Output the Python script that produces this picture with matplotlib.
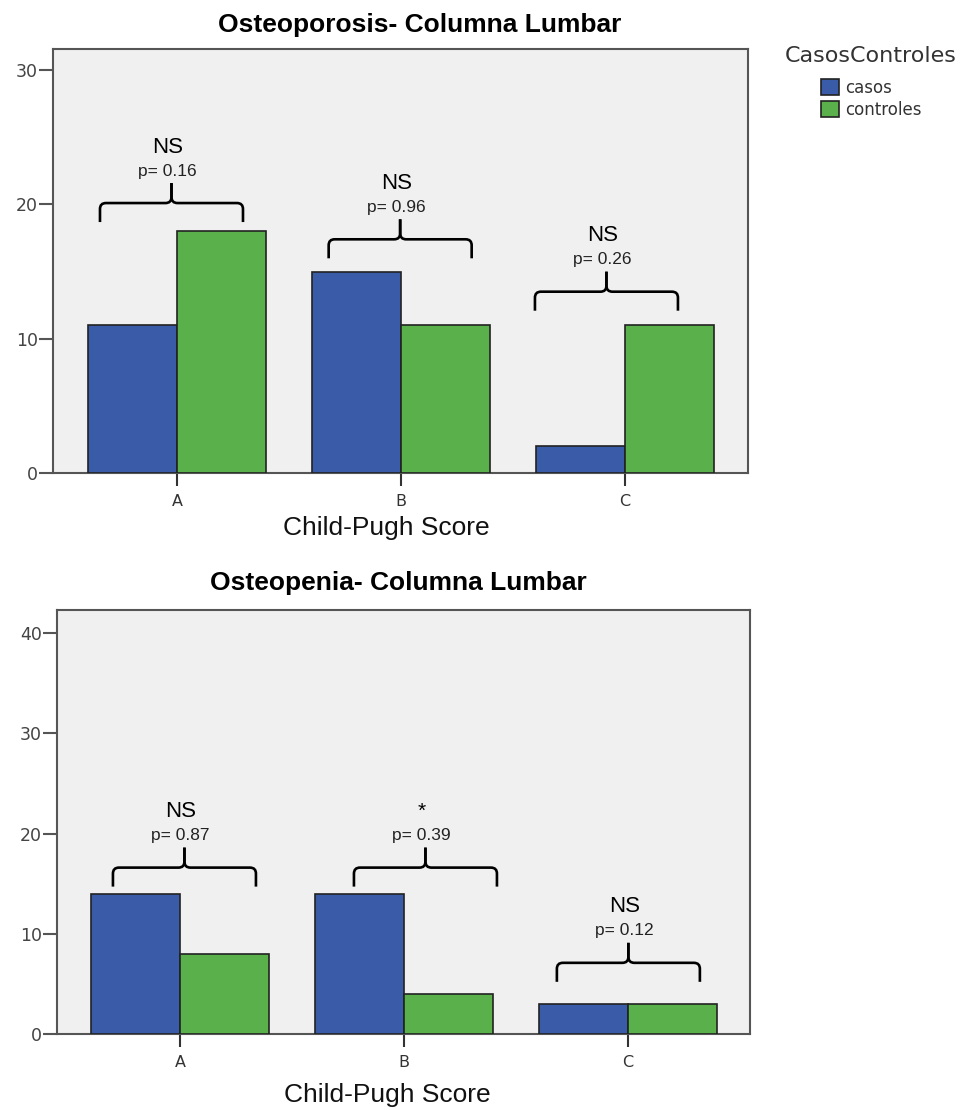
import matplotlib.pyplot as plt
import numpy as np
from matplotlib.path import Path
from matplotlib.patches import PathPatch

# data
groups = ["A", "B", "C"]
series = ["casos", "controles"]
osteoporosis_casos = [11, 15, 2]
osteoporosis_controles = [18, 11, 11]
osteopenia_casos = [14, 14, 3]
osteopenia_controles = [8, 4, 3]

# significance annotations (brace centre, brace level, label, p-value)
porosis_marks = ["NS", "NS", "NS"]
porosis_p = ["p= 0.16", "p= 0.96", "p= 0.26"]
porosis_brace_x = [-0.025, 0.996, 1.917]
porosis_brace_y = [20.1, 17.4, 13.5]
penia_marks = ["NS", "*", "NS"]
penia_p = ["p= 0.87", "p= 0.39", "p= 0.12"]
penia_brace_x = [0.02, 1.096, 2.002]
penia_brace_y = [16.6, 16.6, 7.1]

blue = "#3a5ba8"
green = "#5ab04a"
sans = ["Liberation Sans", "DejaVu Sans"]

W, H = 966, 1110
fig = plt.figure(figsize=(W / 100, H / 100), dpi=100)


def brace(ax, xc, y0, half_px=71.5, drop=19, rise=20, r=6):
    sx = ax.bbox.width / (ax.get_xlim()[1] - ax.get_xlim()[0])
    sy = ax.bbox.height / (ax.get_ylim()[1] - ax.get_ylim()[0])
    for s in (-1, 1):
        pts = [(s * half_px, -drop), (s * half_px, -r), (s * half_px, 0),
               (s * (half_px - r), 0), (s * r, 0), (0, 0), (0, r), (0, rise)]
        codes = [Path.MOVETO, Path.LINETO, Path.CURVE3, Path.CURVE3,
                 Path.LINETO, Path.CURVE3, Path.CURVE3, Path.LINETO]
        verts = [(xc + dx / sx, y0 + dy / sy) for dx, dy in pts]
        ax.add_patch(PathPatch(Path(verts, codes), fill=False, lw=1.9,
                               color="black", capstyle="butt", zorder=5))
    return sx, sy


def panel(rect, casos, controles, ymax, yticks, xlim, title, title_xy,
          marks, pvals, bx, by, xlabel_xy):
    ax = fig.add_axes(rect)
    ax.set_facecolor("#f0f0f0")
    x = np.arange(len(groups))
    w = 0.397
    ax.bar(x - w / 2, casos, w, color=blue, edgecolor="#222222", lw=1.2,
           label=series[0], zorder=3)
    ax.bar(x + w / 2, controles, w, color=green, edgecolor="#222222", lw=1.2,
           label=series[1], zorder=3)
    ax.set_xlim(*xlim)
    ax.set_ylim(0, ymax)
    ax.set_yticks(yticks)
    ax.set_xticks(x)
    ax.set_xticklabels(groups)
    for sp in ax.spines.values():
        sp.set_color("#555555")
        sp.set_linewidth(1.5)
    ax.tick_params(axis="y", length=10, width=1.5, color="#555555", pad=1,
                   labelsize=12.5, labelcolor="#444444")
    ax.tick_params(axis="x", length=9, width=1.5, color="#333333", pad=6,
                   labelsize=11.5, labelcolor="#333333")
    ax.set_title(title, x=title_xy[0], y=title_xy[1], pad=0, va="center",
                 fontsize=19, fontweight="bold", family=sans)
    ax.set_xlabel("Child-Pugh Score", fontsize=19, family=sans, va="center",
                  color="#111111")
    ax.xaxis.set_label_coords(*xlabel_xy)
    for xc, y0, m, p in zip(bx, by, marks, pvals):
        sx, sy = brace(ax, xc, y0)
        tx = xc - 4 / sx
        ax.text(tx, y0 + 56 / sy, m, ha="center", va="center",
                fontsize=16 if m != "*" else 15, family=sans, zorder=6)
        ax.text(tx, y0 + 32 / sy, p, ha="center", va="center",
                fontsize=12.5, family=sans, color="#222222", zorder=6)
    return ax


ax1 = panel([53 / W, 1 - 473 / H, 695 / W, 424 / H],
            osteoporosis_casos, osteoporosis_controles, 31.57, [0, 10, 20, 30],
            (-0.554, 2.549), "Osteoporosis- Columna Lumbar", (0.528, 1.057),
            porosis_marks, porosis_p, porosis_brace_x, porosis_brace_y,
            (0.48, -0.13))

ax2 = panel([57 / W, 1 - 1034 / H, 693 / W, 424 / H],
            osteopenia_casos, osteopenia_controles, 42.3, [0, 10, 20, 30, 40],
            (-0.549, 2.545), "Osteopenia- Columna Lumbar", (0.493, 1.064),
            penia_marks, penia_p, penia_brace_x, penia_brace_y,
            (0.476, -0.144))

handles, labels = ax1.get_legend_handles_labels()
leg = fig.legend(handles, labels, title="CasosControles", loc="upper center",
                 bbox_to_anchor=(871 / W, 1 - 38 / H), frameon=False,
                 fontsize=12, title_fontsize=16, handlelength=1.1,
                 handleheight=1.1, handletextpad=0.35, labelspacing=0.25,
                 borderpad=0)
leg._legend_box.sep = 9
leg.get_title().set_color("#333333")
for t in leg.get_texts():
    t.set_color("#333333")

fig.savefig("out.png", dpi=100, facecolor="white")
